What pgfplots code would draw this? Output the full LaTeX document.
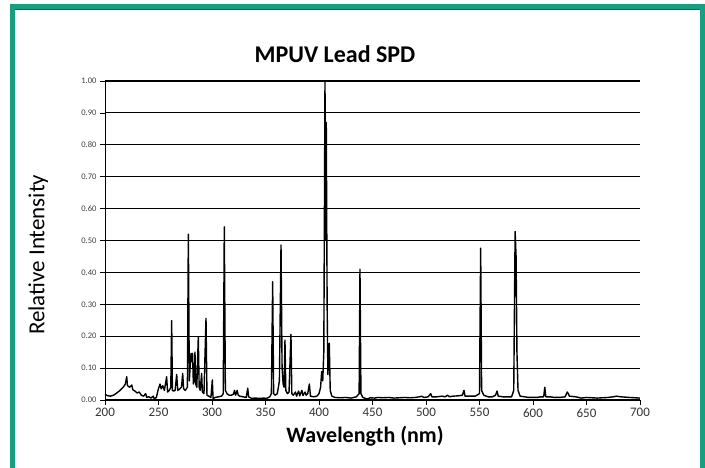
\documentclass[border=0pt]{standalone}
\usepackage{fontspec}
\setmainfont{Carlito}
\usepackage{pgfplots}
\pgfplotsset{compat=1.18}
\definecolor{frameteal}{RGB}{22,158,128}

\begin{document}
\begin{tikzpicture}
    \path[use as bounding box] (0pt,0pt) rectangle (705pt,468pt);
    \fill[white] (0pt,0pt) rectangle (705pt,468pt);
    % teal frame round the chart, open at the foot as in the scan
    \draw[frameteal, line width=4.5pt] (12.5pt,0pt) -- (12.5pt,461.5pt) -- (702.5pt,461.5pt) -- (702.5pt,0pt);
    \draw[black!70, line width=0.6pt] (15pt,458.8pt) -- (700pt,458.8pt);
    \begin{axis}[
            at={(105pt,68pt)},
            anchor=south west,
            scale only axis,
            width=535pt,
            height=319pt,
            xmin=200, xmax=700,
            ymin=0, ymax=1,
            xtick={200,250,...,700},
            ytick={0,0.1,...,1.0},
            axis lines*=left,
            axis line style={black, line width=0.9pt, -},
            tick pos=left,
            tick align=outside,
            major tick length=5pt,
            ymajorgrids,
            grid style={black, line width=1.1pt},
            tick style={black, line width=0.7pt},
            /pgf/number format/assume math mode=true,
            xticklabel style={font=\fontsize{13}{13}\selectfont, text=black!80},
            yticklabel style={font=\fontsize{8.5}{9}\selectfont, text=black!75,
                    /pgf/number format/.cd, fixed, fixed zerofill, precision=2},
            title={MPUV Lead SPD},
            title style={at={(axis description cs:0.43,1.066)}, anchor=center,
                    font=\fontsize{24}{24}\selectfont\bfseries},
            xlabel={Wavelength (nm)},
            xlabel style={at={(axis description cs:0.486,-0.115)}, anchor=center,
                    font=\fontsize{22}{22}\selectfont\bfseries},
            ylabel={Relative Intensity},
            ylabel style={at={(axis description cs:-0.125,0.455)}, anchor=center,
                    font=\fontsize{23}{23}\selectfont},
        ]
        % thin grey right edge of the plot area
        \draw[black!55, line width=0.7pt] (axis cs:700,0) -- (axis cs:700,1);
        \draw[black, line width=0.9pt] (axis cs:700,0) -- (axis cs:707,0);
        \addplot [black, line width=1.4pt, line join=round] coordinates {
                (200,0.018) (202,0.014) (205,0.012) (208,0.015) (211,0.022)
                (214,0.030) (217,0.040) (219,0.050) (220.3,0.073) (221,0.045)
                (223,0.040) (225,0.047) (226,0.032) (228,0.028) (230,0.022)
                (232,0.025) (234,0.015) (236,0.012) (238,0.020) (239,0.008)
                (241,0.010) (243,0.006) (245,0.012) (246,0.004) (248,0.008)
                (249.5,0.030) (251.4,0.050) (252.5,0.035) (254,0.045) (255.5,0.030)
                (257.6,0.073) (258.5,0.025) (260,0.030) (261.5,0.040) (262.3,0.249)
                (263,0.030) (264,0.028) (265.5,0.030) (267,0.080) (268,0.030)
                (270,0.035) (271.5,0.040) (272.6,0.083) (273.5,0.035) (275,0.030)
                (277,0.040) (277.9,0.520) (278.8,0.060) (279.5,0.100) (280.4,0.146)
                (281.2,0.120) (281.8,0.146) (282.6,0.050) (283.3,0.060) (284.1,0.150)
                (284.8,0.050) (285.8,0.040) (287.2,0.198) (288,0.040) (289,0.030)
                (290.3,0.083) (291,0.025) (292.5,0.020) (294.4,0.256) (295.3,0.015)
                (297,0.012) (299,0.008) (300.3,0.063) (301,0.005) (303,0.008)
                (306,0.010) (309,0.012) (310.5,0.020) (311.5,0.543) (312.5,0.030)
                (314,0.020) (316,0.015) (318,0.015) (320,0.018) (321,0.030)
                (322,0.015) (323.5,0.030) (324.5,0.015) (326,0.012) (329,0.010)
                (332,0.008) (333.4,0.037) (334.2,0.010) (337,0.005) (340,0.006)
                (345,0.005) (348,0.006) (351,0.005) (354,0.010) (355.5,0.020)
                (356.7,0.371) (357.6,0.020) (359,0.015) (361,0.020) (363,0.060)
                (364.5,0.486) (365.5,0.100) (366.5,0.050) (367.4,0.040) (368.2,0.188)
                (369,0.030) (370.5,0.020) (372,0.025) (373.8,0.206) (374.6,0.020)
                (376,0.015) (378,0.025) (379,0.012) (381,0.028) (382,0.013)
                (384,0.030) (385,0.014) (387,0.025) (388,0.015) (389.5,0.020)
                (391,0.050) (392,0.012) (395,0.010) (398,0.012) (400,0.020)
                (401.5,0.040) (402.5,0.089) (403.5,0.060) (404.5,0.150) (405.6,1.000)
                (406.3,0.500) (406.8,0.870) (407.6,0.300) (408.3,0.080) (409.6,0.178)
                (410.5,0.030) (412,0.012) (415,0.008) (420,0.007) (425,0.008)
                (430,0.006) (435,0.010) (437.5,0.020) (438.3,0.410) (439.2,0.020)
                (441,0.008) (445,0.003) (448,0.007) (452,0.006) (455,0.008)
                (460,0.007) (465,0.008) (470,0.006) (475,0.007) (480,0.008)
                (485,0.007) (490,0.008) (494,0.010) (496,0.012) (498,0.008)
                (502,0.010) (504.4,0.020) (505.5,0.010) (510,0.010) (515,0.012)
                (518,0.010) (520,0.015) (522,0.010) (525,0.012) (530,0.013)
                (534,0.015) (535.5,0.030) (536.5,0.012) (540,0.012) (544,0.012)
                (546,0.012) (550,0.020) (551.1,0.476) (552,0.030) (554,0.015)
                (558,0.010) (562,0.010) (565,0.015) (566.4,0.028) (567.5,0.012)
                (572,0.010) (577,0.010) (580,0.010) (582,0.030) (583.3,0.528)
                (584.2,0.450) (585,0.150) (586,0.030) (588,0.012) (592,0.010)
                (596,0.008) (600,0.008) (604,0.008) (607,0.010) (610,0.010)
                (611,0.040) (612,0.010) (616,0.010) (620,0.008) (625,0.008)
                (630,0.010) (632,0.025) (633,0.020) (634,0.012) (640,0.010)
                (645,0.006) (650,0.008) (660,0.006) (670,0.008) (675,0.010)
                (678,0.012) (682,0.010) (690,0.008) (700,0.006)
            };
    \end{axis}
\end{tikzpicture}
\end{document}
